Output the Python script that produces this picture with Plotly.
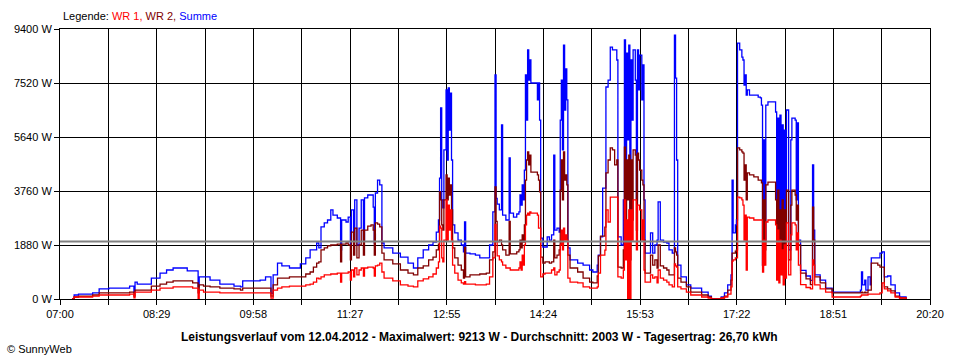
import plotly.graph_objects as go

# ---- data (time = minutes after 07:00, power in W) ----
minutes = [11,13,17,30,36,45,64,68,69,71,
 84,92,98,104,117,122,127,128,132,138,
 147,160,166,168,184,189,194,196,200,204,
 211,221,226,230,233,236,238,240,243,246,
 249,251,255,258,259,263,265,267,268,270,
 271,273,275,277,279,280,283,286,288,289,
 290,292,294,296,298,306,313,320,325,329,
 334,339,343,346,348,349,350,351,352,353,
 355,356,357,358,359,360,361,363,366,369,
 371,372,373,377,382,386,392,395,398,400,
 401,402,404,406,407,410,413,414,417,420,
 422,423,424,425,426,427,428,429,430,431,
 432,433,437,439,440,441,442,444,446,448,
 450,452,454,455,457,459,460,461,462,463,
 464,465,466,467,469,476,481,487,490,494,
 495,497,499,501,502,504,506,508,510,512,
 513,516,518,519,520,521,522,523,524,525,
 526,527,529,530,531,532,533,535,536,537,
 538,542,543,545,547,549,550,552,555,558,
 560,563,565,566,567,568,571,576,580,590,
 596,599,607,608,611,614,617,618,619,621,
 622,623,625,627,628,629,630,631,632,634,
 638,642,644,645,646,647,648,649,651,656,
 658,659,660,661,662,663,664,665,666,667,
 668,670,672,673,676,677,678,679,681,686,
 690,692,693,694,699,704,710,736,737,738,
 740,741,743,745,746,752,754,756,758,761,
 764,768,772,778]

summe = [0,140,170,210,350,380,450,240,590,520,
 730,900,1010,1080,980,980,420,770,770,660,
 520,450,420,630,660,770,200,840,1250,1150,
 1080,1220,1430,1710,1710,1950,1780,2510,2650,2750,
 3100,2920,2820,1710,2750,2680,2850,1880,3100,2050,
 3450,1880,2470,3450,2050,3520,3620,3620,3200,1950,
 3690,4140,3970,1950,1780,1600,1460,1250,1080,1430,
 1710,1880,1980,2330,2750,4210,6650,3450,3170,5190,
 7280,4840,7350,5880,7170,4840,2580,2300,2050,1880,
 1640,2680,1600,1570,1530,1430,1430,1880,3030,7800,
 3500,3300,3100,6060,2920,2750,4910,2990,2850,2960,
 3030,3620,3270,3970,3450,4490,7800,6230,8670,7620,
 8320,7520,7520,6930,7520,6230,2120,1810,1810,2160,
 2050,2230,5010,2400,2470,2330,6230,7620,5190,8840,
 6580,8010,6930,1780,1360,1250,1180,1010,940,1180,
 1530,2160,3860,3860,7380,7620,8770,8670,8670,8320,
 2160,1880,3450,9020,4140,8560,5540,8840,2400,8320,
 6230,8670,7620,3450,8670,7280,8490,6930,8150,3450,
 1600,1600,2300,1600,1880,2050,3380,2050,1980,1950,
 1710,1600,9190,7690,4840,1180,770,490,380,240,
 100,0,0,70,210,490,840,4140,2300,2580,
 2750,8910,8670,8420,8320,7450,7800,7100,7280,7100,
 7100,7030,7000,6750,1180,5540,2050,6750,6860,6860,
 6510,2050,6300,1360,6400,1710,6060,1010,5880,2050,
 6580,1710,5540,6300,6230,3450,6130,2050,1000,800,
 650,4670,2400,840,660,380,240,310,940,490,
 660,310,770,490,1430,1430,1600,1640,770,800,
 490,210,70,0]

wr2 = [0,70,100,140,210,210,240,100,310,310,
 450,520,590,630,630,560,210,490,450,420,
 380,350,310,380,380,380,100,490,730,730,
 770,770,870,940,1110,1250,1290,1710,1780,1850,
 1880,1880,1910,1290,1910,1950,1880,1360,2330,1530,
 2470,1430,1880,2400,1530,2400,2540,2580,2400,1530,
 2650,2610,2510,1600,1360,1220,1010,900,840,1080,
 1150,1360,1460,1710,1910,3730,3450,2580,2400,3450,
 4320,3450,4210,3620,3970,3100,1780,1430,1180,1010,
 730,1800,770,840,840,870,900,1360,1640,3900,
 2700,2000,2050,1880,1710,1530,2700,1570,1570,1640,
 1710,2050,1780,2230,1980,2580,4140,4840,5120,4670,
 5010,4420,4420,4320,4140,3730,1460,1250,1290,1290,
 1250,1290,2050,1430,1530,1710,3790,4840,3450,5120,
 4140,4320,3970,1530,1080,940,730,590,560,800,
 1500,2190,2190,2500,4390,4840,5260,5190,4670,4840,
 1110,1080,1710,5290,2400,4840,3450,5010,1360,4840,
 2750,5190,5010,2400,5080,4840,4490,4140,3970,2050,
 900,900,1530,1180,1360,1080,1880,1150,1080,1010,
 840,840,1780,1640,1530,730,590,420,240,140,
 70,0,0,35,100,310,660,1600,1600,1670,
 1710,5260,5190,5120,5080,4140,4670,3450,4390,4320,
 4250,4140,4140,4040,1180,3450,1710,3970,4070,4070,
 3450,1360,3790,1010,3100,1180,3450,840,3100,1360,
 3790,1360,3270,3790,3620,2750,3270,1880,900,700,
 500,3200,2050,770,560,350,210,210,240,210,
 240,210,310,310,1250,1180,1110,1110,420,350,
 280,100,35,0]

wr1 = [0,70,70,100,140,140,170,40,240,240,
 310,380,380,420,420,380,20,310,240,240,
 210,210,210,210,210,210,30,310,380,420,
 450,450,490,520,590,730,700,770,840,840,
 870,870,900,590,900,900,940,660,1010,770,
 1080,840,1010,1080,800,1080,1110,1110,1080,800,
 1150,1180,1250,940,730,630,490,450,420,630,
 700,770,870,1080,1290,2540,2470,1430,1290,2050,
 3450,2050,3270,2400,3100,2050,1180,900,660,560,
 520,600,520,520,490,490,520,770,1430,2600,
 2000,1500,1360,1290,1180,1080,1080,1010,1010,1010,
 1080,1290,1010,1530,1180,1880,2580,2920,2990,2920,
 3030,2990,2990,2920,2470,2470,770,870,900,900,
 900,1010,1080,840,940,1010,1880,2400,1710,2470,
 2050,2230,2050,730,590,560,420,380,380,420,
 900,1530,1530,1700,3100,2680,3550,3550,3550,3550,
 770,730,1010,3450,1360,2750,0,3100,0,3100,
 2050,3450,3450,1710,3270,3270,3100,2050,2750,1010,
 590,590,840,730,770,560,1010,730,660,590,
 490,420,1220,1150,1110,420,350,240,140,70,
 35,0,0,35,70,170,420,1320,1360,1430,
 1430,3550,3520,3450,3270,2050,2920,1010,2850,2820,
 2750,2750,2750,2750,940,2050,1180,2680,2750,2750,
 2580,660,2400,560,2050,840,1710,490,1880,730,
 2650,840,2230,2650,2580,1710,2300,1180,500,400,
 350,1360,1180,490,350,240,70,100,140,140,
 140,140,170,170,170,170,210,560,350,280,
 210,70,35,0]

x_tick_labels = ["07:00", "08:29", "09:58", "11:27", "12:55",
                 "14:24", "15:53", "17:22", "18:51", "20:20"]
y_tick_values = [0, 1880, 3760, 5640, 7520, 9400]
y_tick_labels = ["0 W", "1880 W", "3760 W", "5640 W", "7520 W", "9400 W"]
average_w = 2003
title_text = ("Leistungsverlauf vom 12.04.2012 - Maximalwert: 9213 W - "
              "Durchschnitt: 2003 W - Tagesertrag: 26,70 kWh")

# ---- figure ----
span = 800
n = len(x_tick_labels) - 1
major = [span * i / n for i in range(n + 1)]
minor = [span * (i + 0.5) / n for i in range(n)]

FONT = "Liberation Sans, Arial, sans-serif"
fig = go.Figure()
for name, vals, col in [("Summe", summe, "#0000FF"),
                        ("WR 2", wr2, "#800000"),
                        ("WR 1", wr1, "#FF0000")]:
    fig.add_trace(go.Scatter(x=minutes, y=vals, name=name, mode="lines",
                             line=dict(color=col, width=1.3, shape="hv"),
                             showlegend=False))

fig.add_shape(type="line", xref="x domain", x0=0, x1=1, yref="y",
              y0=average_w, y1=average_w, line=dict(color="#808080", width=2),
              layer="above")

fig.update_xaxes(range=[0, span], tickmode="array", tickvals=major,
                 ticktext=x_tick_labels, ticks="outside", ticklen=5,
                 tickcolor="black", showgrid=True, gridcolor="black",
                 gridwidth=1, showline=True, linecolor="black", mirror=True,
                 zeroline=False,
                 minor=dict(tickmode="array", tickvals=minor, ticks="outside",
                            ticklen=5, tickcolor="black", showgrid=True,
                            gridcolor="black", gridwidth=1),
                 tickfont=dict(family=FONT, size=11, color="black"))
fig.update_yaxes(range=[0, 9400], tickmode="array", tickvals=y_tick_values,
                 ticktext=y_tick_labels, ticks="outside", ticklen=5,
                 tickcolor="black", showgrid=True, gridcolor="black",
                 gridwidth=1, showline=True, linecolor="black", mirror=True,
                 zeroline=False,
                 tickfont=dict(family=FONT, size=11, color="black"))

fig.add_annotation(xref="paper", yref="paper", x=0.001, y=1.048,
                   xanchor="left", yanchor="middle", showarrow=False,
                   text=("Legende: <span style='color:#FF0000'>WR 1, </span>"
                         "<span style='color:#800000'>WR 2, </span>"
                         "<span style='color:#0000FF'>Summe</span>"),
                   font=dict(family=FONT, size=11, color="black"))
fig.add_annotation(xref="paper", yref="paper", x=0.482, y=-0.1407,
                   xanchor="center", yanchor="middle", showarrow=False,
                   text="<b>" + title_text + "</b>",
                   font=dict(family=FONT, size=12, color="black"))
fig.add_annotation(xref="paper", yref="paper", x=-0.0632, y=-0.185,
                   xanchor="left", yanchor="middle", showarrow=False,
                   text="© SunnyWeb",
                   font=dict(family=FONT, size=11, color="black"))

fig.update_layout(width=960, height=360, margin=dict(l=60, r=30, t=29, b=61),
                  plot_bgcolor="white", paper_bgcolor="white",
                  font=dict(family=FONT, size=11, color="black"))

# remove the browser's default page margin so the figure sits at (0, 0)
fig.write_html("out.html", config={"displayModeBar": False},
               post_script="document.body.style.margin='0px';")
